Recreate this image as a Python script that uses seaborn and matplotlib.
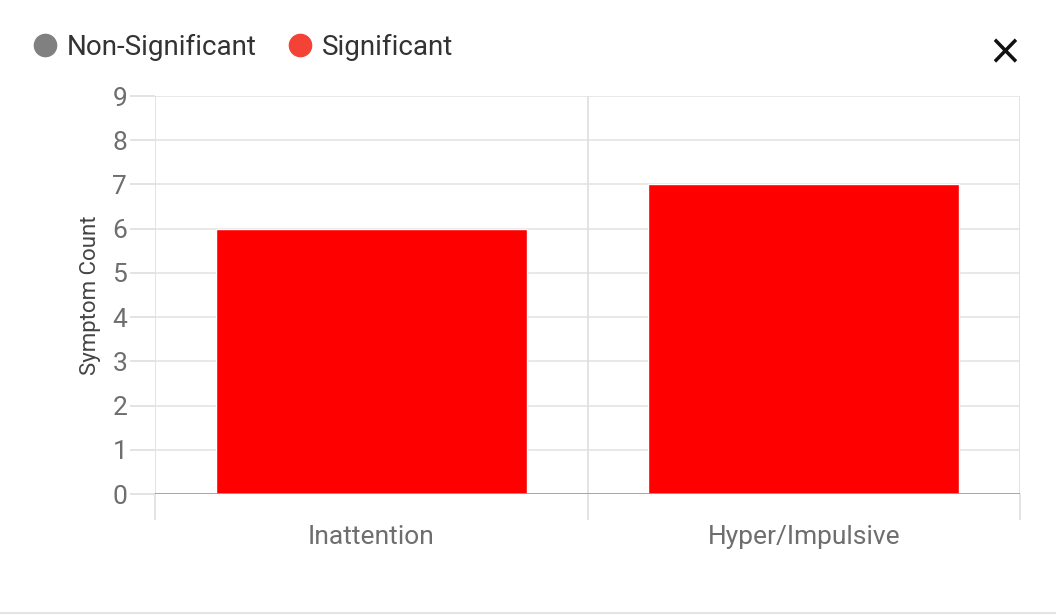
import matplotlib
matplotlib.use("Agg")
import matplotlib.pyplot as plt
from matplotlib.lines import Line2D
import seaborn as sns
import pandas as pd

categories = ["Inattention", "Hyper/Impulsive"]
symptom_counts = [6, 7]
legend_labels = ["Non-Significant", "Significant"]
legend_colors = ["#808080", "#f44336"]
y_ticks = list(range(0, 10))

sns.set_style("white")
plt.rcParams["font.family"] = ["Roboto", "DejaVu Sans"]

df = pd.DataFrame({"category": categories, "count": symptom_counts})

fig = plt.figure(figsize=(10.56, 6.16), dpi=100)
W, H = 1056, 616
ax = fig.add_axes([155 / W, 1 - 494 / H, (1020 - 155) / W, (494 - 96) / H])

sns.barplot(data=df, x="category", y="count", color="#ff0000", width=0.72,
            saturation=1, ax=ax, zorder=3)

ax.set_xlim(-0.5, 1.5)
ax.set_ylim(0, 9)
ax.set_yticks(y_ticks)
ax.set_yticklabels([str(t) for t in y_ticks])

# horizontal grid
for t in y_ticks:
    ax.axhline(t, color="#e6e6e6" if t else "#9e9e9e", lw=1.3, zorder=1 if t else 4)
# vertical category separators
for xv in [-0.5, 0.5, 1.5]:
    ax.axvline(xv, color="#e0e0e0", lw=1.3, zorder=1)

for s in ax.spines.values():
    s.set_visible(False)

ax.tick_params(axis="y", left=True, length=18, width=1.3, color="#e0e0e0", pad=2,
               labelsize=19, labelcolor="#6e6e6e")
ax.set_xticks([-0.5, 0.5, 1.5], minor=True)
ax.tick_params(axis="x", which="minor", bottom=True, length=19, width=1.3,
               color="#e0e0e0")
ax.tick_params(axis="x", which="major", bottom=False, length=0, pad=22,
               labelsize=19, labelcolor="#6e6e6e")
ax.set_xlabel("")
ax.set_ylabel("Symptom Count", fontsize=16, color="#444444", labelpad=8)

handles = [Line2D([0], [0], marker="o", linestyle="", markersize=16,
                  markerfacecolor=c, markeredgecolor=c) for c in legend_colors]
fig.legend(handles, legend_labels, loc="upper left",
           bbox_to_anchor=(28 / W, 1 - 34 / H), ncol=2, frameon=False,
           fontsize=20, labelcolor="#333333", handletextpad=0.2,
           columnspacing=0.95, handlelength=1.2, borderaxespad=0,
           borderpad=0)

fig.text(1005 / W, 1 - 52 / H, "\u00d7", fontsize=30, color="#111111",
         ha="center", va="center", family=["DejaVu Sans"])

fig.add_artist(Line2D([0, 1], [1 - 613 / H] * 2, color="#e4e4e4", lw=1.5))

fig.savefig("out.png", dpi=100, facecolor="white")
